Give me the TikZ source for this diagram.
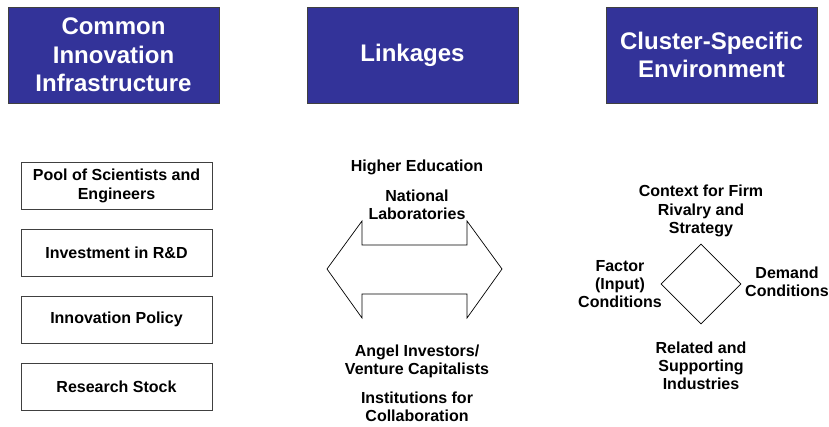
\documentclass[tikz,border=0pt]{standalone}
\usepackage{fontspec}
\setmainfont{Liberation Sans}
\usetikzlibrary{shapes.geometric}
\definecolor{headblue}{HTML}{333399}
\begin{document}
\begin{tikzpicture}[x=1pt,y=-1pt,
  header/.style={draw=black!75,line width=0.8pt,fill=headblue,text=white,
    minimum width=211pt,minimum height=96pt,inner sep=0pt,align=center,
    font=\bfseries\fontsize{24}{28.3}\selectfont},
  itembox/.style={draw=black!75,line width=0.7pt,fill=white,
    minimum width=191pt,minimum height=47pt,inner sep=0pt,align=center,
    font=\bfseries\fontsize{16}{18.4}\selectfont},
  label/.style={align=center,inner sep=0pt,font=\bfseries\fontsize{16}{18.2}\selectfont},
  outline/.style={draw=black,line width=0.7pt,line join=miter}]
  \useasboundingbox (0,0) rectangle (829,427);

  % column headings
  \node[header] (hInfra) at (113.5,55) {Common\\Innovation\\Infrastructure};
  \node[header] (hLink)  at (412.5,55) {Linkages};
  \node[header] (hClust) at (711.5,55) {Cluster-Specific\\Environment};

  % common innovation infrastructure
  \node[itembox] (pool)   at (116.5,186)   {Pool of Scientists and\\Engineers};
  \node[itembox] (invest) at (116.5,252.5) {Investment in R\&D};
  \node[itembox] (policy) at (116.5,319.5) {Innovation Policy};
  \node[itembox] (stock)  at (116.5,386.5) {Research Stock};

  % linkages: two-headed arrow with institutions above and below
  \draw[outline] (327,269) -- (362,221) -- (362,245) -- (467,245) -- (467,221)
    -- (502,269) -- (467,318) -- (467,294) -- (362,294) -- (362,318) -- cycle;
  \node[label] (higher) at (417,167) {Higher Education};
  \node[label] (natlab) at (417,205) {National\\Laboratories};
  \node[label] (angel)  at (417,361) {Angel Investors/\\Venture Capitalists};
  \node[label] (collab) at (417,407) {Institutions for\\Collaboration};

  % cluster-specific environment: diamond
  \node[diamond,outline,minimum size=80pt,inner sep=0pt] (dia) at (701,284) {};
  \node[label] (context) at (701,211) {Context for Firm\\Rivalry and\\Strategy};
  \node[label] (factor)  at (620,284) {Factor\\(Input)\\Conditions};
  \node[label] (demand)  at (787,282) {Demand\\Conditions};
  \node[label] (related) at (701,366) {Related and\\Supporting\\Industries};
\end{tikzpicture}
\end{document}
